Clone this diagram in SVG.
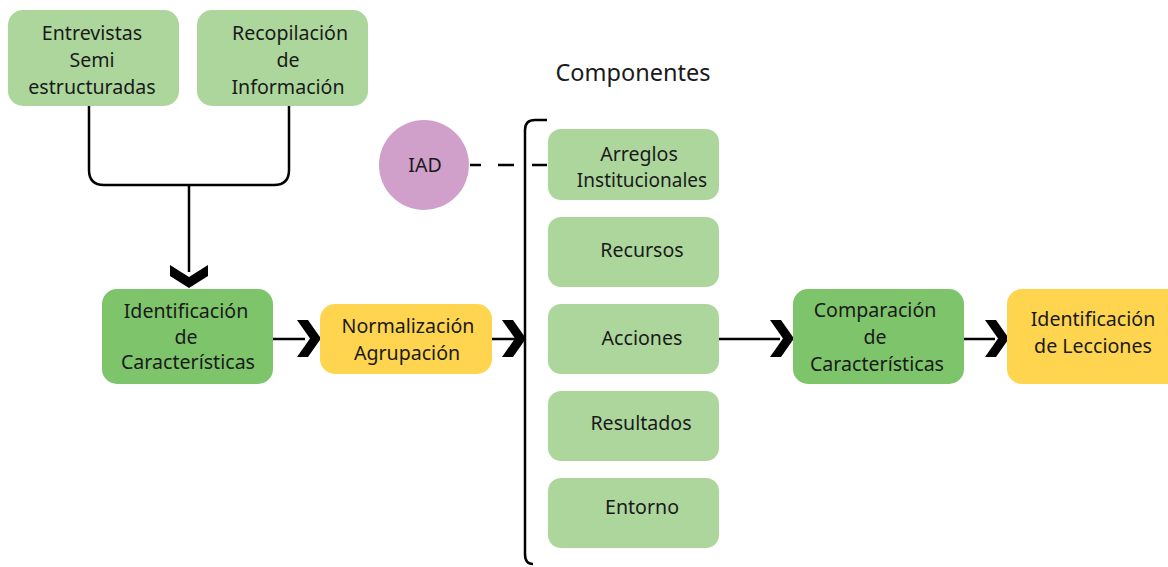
<svg xmlns="http://www.w3.org/2000/svg" width="1168" height="567" viewBox="0 0 1168 567">
<style>
.lt{fill:#acd69c}
.dk{fill:#7dc46a}
.yl{fill:#ffd54f}
text{font-family:"Noto Sans","DejaVu Sans",sans-serif;font-size:19.6px;fill:#1a1a1a;text-anchor:middle}
.ln{fill:none;stroke:#000;stroke-width:2.5}
.ch{fill:#000}
</style>
<rect width="1168" height="567" fill="#fff"/>
<g id="connectors">
<path class="ln" d="M89,106 V170 Q89,185 104,185 H274 Q289,185 289,170 V106"/>
<path class="ln" d="M189,185 V272"/>
<polygon class="ch" points="170,265 170,276 189,288 208,276 208,265 189,277"/>
<path class="ln" d="M273,339 H305"/>
<polygon class="ch" points="297,320 308,320 321,338.5 308,357 297,357 310,338.5"/>
<path class="ln" d="M492,339 H525"/>
<polygon class="ch" points="502,320 513,320 526,338.5 513,357 502,357 515,338.5"/>
<path class="ln" d="M533,564 Q525,564 525,554 V130 Q525,120 535,120 H547"/>
<path class="ln" d="M470,165 H481 M498,165 H514 M532,165 H547"/>
<path class="ln" d="M719,339 H780"/>
<polygon class="ch" points="770,320 781,320 794,338.5 781,357 770,357 783,338.5"/>
<path class="ln" d="M964,339 H995"/>
<polygon class="ch" points="985,320 996,320 1009,338.5 996,357 985,357 998,338.5"/>
</g>
<text x="633" y="81" style="font-size:23.5px">Componentes</text>
<g id="entrevistas"><rect class="lt" x="8" y="10" width="171" height="96" rx="15"/>
<text x="92" y="40">Entrevistas</text><text x="92" y="67">Semi</text><text x="92" y="94">estructuradas</text></g>
<g id="recopilacion"><rect class="lt" x="197" y="10" width="171" height="96" rx="15"/>
<text x="290" y="40">Recopilación</text><text x="288" y="67">de</text><text x="288" y="94">Información</text></g>
<g id="identificacion"><rect class="dk" x="102" y="289" width="171" height="95" rx="15"/>
<text x="186" y="318">Identificación</text><text x="186" y="344">de</text><text x="188" y="369">Características</text></g>
<g id="normalizacion"><rect class="yl" x="320" y="304" width="172" height="70" rx="15"/>
<text x="408" y="333">Normalización</text><text x="407" y="360">Agrupación</text></g>
<g id="iad"><circle cx="424" cy="165" r="45" fill="#d0a0cb"/><text x="425" y="172">IAD</text></g>
<g id="arreglos"><rect class="lt" x="548" y="129" width="171" height="71" rx="13"/>
<text x="639" y="161">Arreglos</text><text x="642" y="187" style="font-size:19px">Institucionales</text></g>
<g id="recursos"><rect class="lt" x="548" y="217" width="171" height="70" rx="13"/>
<text x="642" y="257">Recursos</text></g>
<g id="acciones"><rect class="lt" x="548" y="304" width="171" height="70" rx="13"/>
<text x="642" y="345">Acciones</text></g>
<g id="resultados"><rect class="lt" x="548" y="391" width="171" height="70" rx="13"/>
<text x="641" y="430">Resultados</text></g>
<g id="entorno"><rect class="lt" x="548" y="478" width="171" height="70" rx="13"/>
<text x="642" y="514">Entorno</text></g>
<g id="comparacion"><rect class="dk" x="793" y="289" width="171" height="95" rx="15"/>
<text x="875" y="317">Comparación</text><text x="875" y="344">de</text><text x="877" y="371">Características</text></g>
<g id="lecciones"><rect class="yl" x="1007" y="289" width="175" height="95" rx="15"/>
<text x="1093" y="326">Identificación</text><text x="1093" y="353">de Lecciones</text></g>
</svg>
